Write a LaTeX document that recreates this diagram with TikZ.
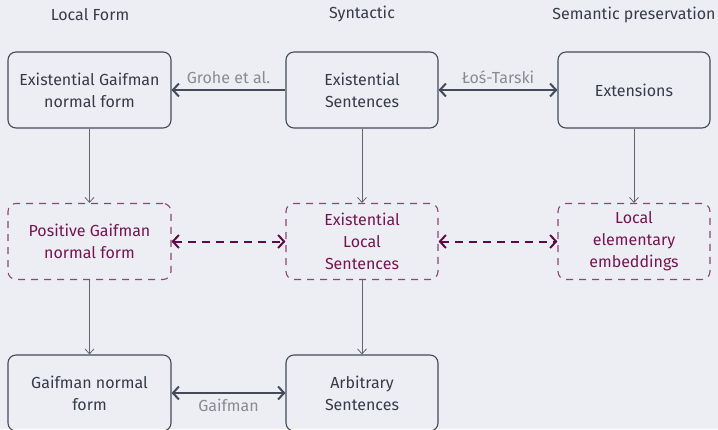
\documentclass[tikz,border=0pt]{standalone}
\usepackage{fontspec}
\setmainfont{Fira Sans}
\usetikzlibrary{arrows.meta}
\definecolor{bgcol}{HTML}{ECEEF3}
\definecolor{edgecol}{HTML}{434A5A}
\definecolor{textcol}{HTML}{353B47}
\definecolor{labcol}{HTML}{888B92}
\definecolor{plumtext}{HTML}{751452}
\definecolor{plumedge}{HTML}{8C4677}
\definecolor{plumline}{HTML}{5E0B47}
\begin{document}
\begin{tikzpicture}[x=1pt,y=-1pt,
  every node/.style={font=\fontsize{16}{22}\selectfont},
  solidbox/.style={draw=edgecol, line width=1.1pt, rounded corners=8pt,
    minimum height=76pt, align=center, text=textcol, inner sep=0pt},
  dashbox/.style={draw=plumedge, line width=1.1pt, rounded corners=8pt,
    dash pattern=on 7pt off 6pt, minimum height=76pt, align=center,
    text=plumtext, inner sep=0pt},
  wide/.style={minimum width=163pt},
  narrow/.style={minimum width=152pt},
  title/.style={text=textcol},
  edgelab/.style={text=labcol},
  down/.style={draw=edgecol!85, line width=0.8pt, -{Straight Barb[length=5pt,width=9pt]}},
  link/.style={draw=edgecol, line width=2pt, {Straight Barb[length=6pt,width=13pt]}-{Straight Barb[length=6pt,width=13pt]}},
  dashlink/.style={draw=plumline, line width=2pt, dash pattern=on 8pt off 6pt,
    {Straight Barb[length=6pt,width=13pt]}-{Straight Barb[length=6pt,width=13pt]}}]
\fill [bgcol] (0,0) rectangle (718,429);
\useasboundingbox (0,0) rectangle (718,429);

% column titles
\node [title] (tloc) at (90,15) {Local Form};
\node [title] (tsyn) at (362,14) {Syntactic};
\node [title] (tsem) at (634,15) {Semantic preservation};

% top row
\node [solidbox, wide]   (egnf) at (89.5,90) {Existential Gaifman\\normal form};
\node [solidbox, narrow] (exs)  at (362,90) {Existential\\Sentences};
\node [solidbox, narrow] (ext)  at (634,90) {Extensions};

% middle row
\node [dashbox, wide]   (pgnf) at (89.5,241.5) {Positive Gaifman\\normal form};
\node [dashbox, narrow] (els)  at (362,241.5) {Existential\\Local\\Sentences};
\node [dashbox, narrow] (lee)  at (634,241.5) {Local\\elementary\\embeddings};

% bottom row
\node [solidbox, wide]   (gnf) at (89.5,393) {Gaifman normal\\form};
\node [solidbox, narrow] (arb) at (362,393) {Arbitrary\\Sentences};

% horizontal links
\draw [draw=edgecol, line width=2pt, -{Straight Barb[length=6pt,width=13pt]}] (exs) -- (egnf)
  node [edgelab, midway, above=2pt] {Grohe et al.};
\draw [link] (exs) -- (ext) node [edgelab, midway, above=2pt] {Łoś-Tarski};
\draw [link] (gnf) -- (arb) node [edgelab, midway, below=2pt] {Gaifman};
\draw [dashlink] (pgnf) -- (els);
\draw [dashlink] (els) -- (lee);

% vertical arrows
\draw [down] (egnf) -- (pgnf);
\draw [down] (exs) -- (els);
\draw [down] (ext) -- (lee);
\draw [down] (pgnf) -- (gnf);
\draw [down] (els) -- (arb);
\end{tikzpicture}
\end{document}
